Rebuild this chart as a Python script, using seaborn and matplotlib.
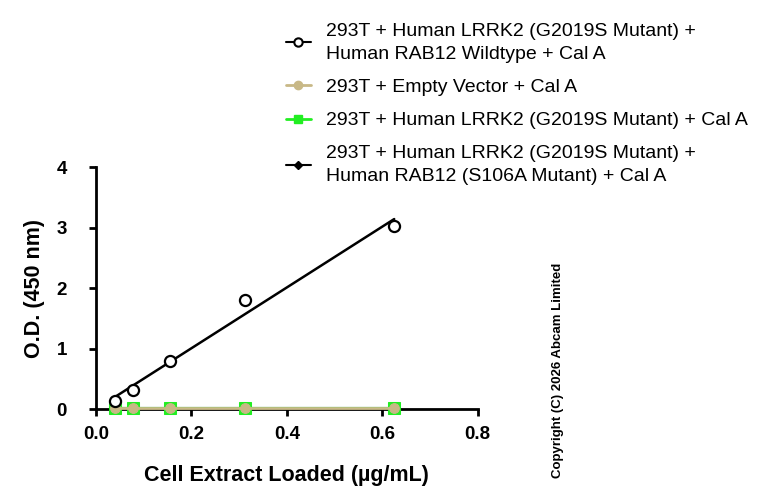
import numpy as np
import matplotlib
matplotlib.use('Agg')
import matplotlib.pyplot as plt
from matplotlib.lines import Line2D
import seaborn as sns

# concentration series (ug/mL)
conc = [0.039, 0.078, 0.156, 0.3125, 0.625]

# O.D. 450 nm readings
od_wt = [0.13, 0.31, 0.80, 1.81, 3.03]
od_empty = [0.01, 0.01, 0.01, 0.01, 0.01]
od_g2019s = [0.01, 0.01, 0.01, 0.01, 0.01]
od_s106a = [0.01, 0.01, 0.01, 0.01, 0.01]

labels = [
    '293T + Human LRRK2 (G2019S Mutant) +\nHuman RAB12 Wildtype + Cal A',
    '293T + Empty Vector + Cal A',
    '293T + Human LRRK2 (G2019S Mutant) + Cal A',
    '293T + Human LRRK2 (G2019S Mutant) +\nHuman RAB12 (S106A Mutant) + Cal A',
]

tan = '#c8b886'
green = '#22ee22'

sns.set_style('ticks')
plt.rcParams['font.family'] = ['Liberation Sans', 'DejaVu Sans']
plt.rcParams['text.color'] = 'black'
plt.rcParams['axes.labelcolor'] = 'black'

fig = plt.figure(figsize=(7.68, 5.01), dpi=100)
ax = fig.add_axes([0.125, 0.1836, 0.497, 0.483])

# near-zero series
sns.lineplot(x=conc, y=od_s106a, ax=ax, color='black', marker='D', markersize=5,
             markeredgecolor='black', linewidth=1.5, zorder=3)
sns.lineplot(x=conc, y=od_g2019s, ax=ax, color=green, marker='s', markersize=8,
             markeredgecolor=green, linewidth=1.5, zorder=4)
sns.lineplot(x=conc, y=od_empty, ax=ax, color=tan, marker='o', markersize=7,
             markeredgecolor=tan, linewidth=2, zorder=5)

# wildtype: linear fit + open circles
sns.regplot(x=np.array(conc), y=np.array(od_wt), ax=ax, scatter=False, ci=None,
            line_kws={'color': 'black', 'linewidth': 1.8, 'zorder': 6})
ax.plot(conc, od_wt, linestyle='none', marker='o', markersize=8,
        markerfacecolor='white', markeredgecolor='black', markeredgewidth=1.6, zorder=7)

ax.set_xlim(0, 0.8)
ax.set_ylim(0, 4)
ax.set_xticks([0.0, 0.2, 0.4, 0.6, 0.8])
ax.set_yticks([0, 1, 2, 3, 4])
ax.set_xticklabels(['0.0', '0.2', '0.4', '0.6', '0.8'])
for s in ['left', 'bottom']:
    ax.spines[s].set_linewidth(2)
    ax.spines[s].set_color('black')
sns.despine(ax=ax)
ax.tick_params(axis='both', width=2, length=5, direction='out', labelsize=13.5, colors='black')
ax.tick_params(axis='y', pad=16)
ax.tick_params(axis='x', pad=7)
for t in ax.get_xticklabels() + ax.get_yticklabels():
    t.set_fontweight('bold')
ax.set_xlabel('Cell Extract Loaded (µg/mL)', fontsize=15.5, fontweight='bold', labelpad=16, color='black')
ax.set_ylabel('O.D. (450 nm)', fontsize=15.5, fontweight='bold', labelpad=8, color='black')
for ln in ax.lines:
    ln.set_clip_on(False)

handles = [
    Line2D([], [], color='black', marker='o', markerfacecolor='white', markeredgecolor='black',
           markersize=6, linewidth=1.5, markeredgewidth=1.5),
    Line2D([], [], color=tan, marker='o', markersize=6, linewidth=2),
    Line2D([], [], color=green, marker='s', markersize=6, linewidth=2),
    Line2D([], [], color='black', marker='D', markersize=4, linewidth=1.5),
]
leg = fig.legend(handles, labels, loc='upper left', bbox_to_anchor=(0.349, 0.99),
                 frameon=False, fontsize=14, handlelength=1.3, handletextpad=0.77,
                 labelspacing=0.8)
for t in leg.get_texts():
    t.set_linespacing(1.5)
    t.set_color('black')

fig.text(0.727, 0.261, 'Copyright (C) 2026 Abcam Limited', rotation=90,
         fontsize=9.5, fontweight='bold', ha='center', va='center', color='black')

fig.savefig('out.png', dpi=100)
